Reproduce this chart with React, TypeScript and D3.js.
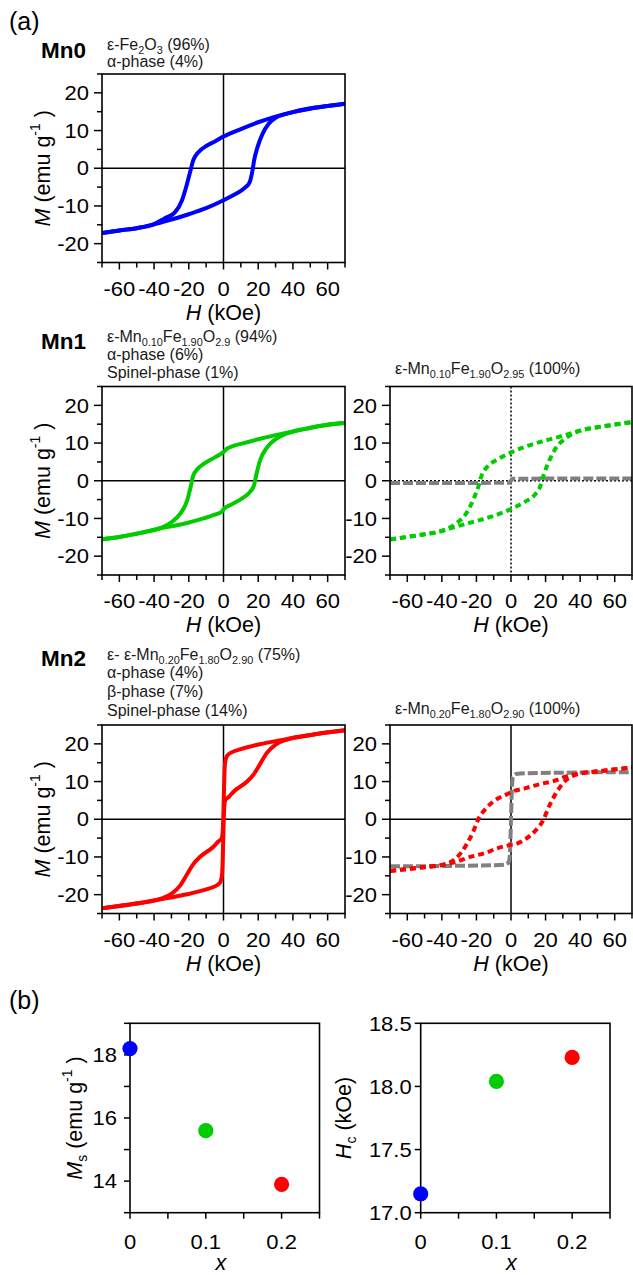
import React from "react";
import * as d3 from "d3";

const FONT = "'Liberation Sans', Arial, Helvetica, sans-serif";

// ---- axis ticks (hysteresis panels) ----
const H_MAJOR = [-60, -40, -20, 0, 20, 40, 60];
const H_MINOR = [-70, -50, -30, -10, 10, 30, 50, 70];
const M_MAJOR = [-20, -10, 0, 10, 20];
const M_MINOR = [-25, -15, -5, 5, 15, 25];

// ---- Mn0 (blue, measured) ----
const mn0UpperH = [-70, -60, -50, -40, -34, -28, -24, -21, -19, -17.5, -16, -13, -10, -5, 0, 10, 20, 30, 40, 50, 60, 70];
const mn0UpperM = [-17.2, -16.5, -15.9, -14.8, -13.3, -11.7, -8.6, -4.1, -0.6, 2.0, 3.4, 4.9, 5.9, 7.1, 8.4, 10.4, 12.2, 13.7, 14.9, 15.8, 16.5, 17.1];
const mn0LowerH = [-70, -60, -50, -40, -30, -20, -10, 0, 5, 10, 13, 15, 16.7, 17.6, 19.6, 22.5, 26, 30, 35, 40, 50, 60, 70];
const mn0LowerM = [-17.2, -16.5, -15.9, -14.9, -13.6, -12.2, -10.6, -8.5, -7.3, -6.0, -4.9, -3.8, -0.6, 2.0, 5.6, 9.1, 11.8, 13.4, 14.3, 14.9, 15.9, 16.5, 17.1];

// ---- Mn1 measured (green solid) ----
const mn1UpperH = [-70, -60, -50, -40, -35, -30, -25, -21, -19, -17.5, -15, -11, -5, 0, 2, 5, 10, 20, 30, 40, 50, 60, 70];
const mn1UpperM = [-15.5, -14.9, -14.0, -13.0, -12.3, -11.0, -8.8, -5.3, -1.8, 1.3, 3.1, 4.6, 6.2, 7.6, 8.5, 9.1, 9.8, 11.0, 12.1, 13.1, 14.1, 14.8, 15.3];
const mn1LowerH = [-70, -60, -50, -40, -35, -29, -21, -13, -5, -1, 0, 5, 11, 15, 17.5, 19, 21, 25, 30, 35, 40, 50, 60, 70];
const mn1LowerM = [-15.5, -14.9, -14.1, -13.1, -12.5, -12.0, -11.2, -10.2, -9.0, -8.2, -7.6, -6.2, -4.6, -3.1, -1.3, 1.8, 5.3, 8.8, 11.0, 12.3, 13.0, 14.0, 14.9, 15.3];

// ---- Mn1 simulated (green dashed + gray spinel) ----
const mn1SimUpperH = [-70, -60, -50, -40, -32, -26, -22, -19, -17, -14, -8, 0, 8, 17, 25, 32, 40, 50, 60, 70];
const mn1SimUpperM = [-15.5, -14.9, -14.2, -13.3, -11.4, -8.7, -5.2, -1.7, 1.4, 3.6, 5.6, 7.5, 9.0, 10.3, 11.3, 12.2, 13.3, 14.2, 14.9, 15.6];
const mn1SimLowerH = [-70, -60, -50, -40, -32, -25, -17, -8, 0, 8, 14, 17, 19, 22, 26, 32, 40, 50, 60, 70];
const mn1SimLowerM = [-15.6, -14.9, -14.2, -13.3, -12.2, -11.3, -10.3, -9.0, -7.5, -5.6, -3.6, -1.4, 1.7, 5.2, 8.7, 11.4, 13.3, 14.2, 14.9, 15.5];
const mn1GrayH = [-70, -30, -1, 0, 1, 30, 70];
const mn1GrayM = [-0.6, -0.6, -0.5, 0, 0.5, 0.6, 0.6];

// ---- Mn2 measured (red solid) ----
const mn2UpperH = [-70, -52, -37, -30, -25, -21, -17.4, -13.6, -5.8, -3, -1, -0.3, 0.3, 0.8, 2, 5, 10, 21, 37, 52, 70];
const mn2UpperM = [-23.6, -22.5, -21.2, -19.8, -17.6, -14.6, -11.9, -10.0, -7.3, -5.9, -5.0, -2, 8, 14.5, 16.8, 17.8, 18.6, 19.9, 21.3, 22.5, 23.6];
const mn2LowerH = [-70, -52, -37, -21, -10, -5, -2, -0.8, -0.3, 0.3, 1, 3, 5.8, 13.6, 17.4, 21, 25, 30, 37, 52, 70];
const mn2LowerM = [-23.6, -22.5, -21.3, -19.9, -18.6, -17.8, -16.8, -14.5, -8, 2, 5.0, 5.9, 7.3, 10.0, 11.9, 14.6, 17.6, 19.8, 21.2, 22.5, 23.6];

// ---- Mn2 simulated (red dashed + gray spinel) ----
const mn2SimUpperH = [-70, -52, -39, -31.4, -25.6, -21.7, -18.9, -14, -8.3, -2.5, 0, 8, 16.7, 25, 31, 39, 52, 70];
const mn2SimUpperM = [-13.7, -12.8, -12.0, -10.2, -6.6, -3.1, 0, 3.1, 5.3, 6.6, 7.2, 8.2, 9.3, 10.2, 11.2, 12.1, 12.8, 13.7];
const mn2SimLowerH = [-70, -52, -39, -31, -25, -14, -8, 0, 2.5, 8.3, 14, 18.9, 21.7, 25.6, 31.4, 39, 52, 70];
const mn2SimLowerM = [-13.7, -12.8, -12.1, -11.2, -10.2, -8.8, -7.7, -6.8, -6.6, -5.3, -3.1, 0, 3.1, 6.6, 10.2, 12.0, 12.8, 13.7];
const mn2GrayH = [-70, -40, -10, -3, -1.2, -0.5, 0, 0.5, 1.2, 3, 10, 40, 70];
const mn2GrayM = [-12.5, -12.4, -12.2, -12.0, -11.2, -8, 0, 8, 11.2, 12.0, 12.2, 12.4, 12.5];

// ---- panel (b) ----
const X_COMP = [0, 0.1, 0.2];
const MS_VALUES = [18.2, 15.6, 13.9];
const HC_VALUES = [17.15, 18.04, 18.23];
const X_B_MAJOR = [0, 0.1, 0.2];
const X_B_MINOR = [0.05, 0.15, 0.25];
const MS_MAJOR = [14, 16, 18];
const MS_MINOR = [13, 15, 17, 19];
const HC_MAJOR = [17.0, 17.5, 18.0, 18.5];

const BLUE = "#0000ff";
const GREEN = "#00cc00";
const RED = "#ff0000";
const GRAY = "#808080";
const COMP_COLORS = [BLUE, GREEN, RED];

const TICK_FS = 20;
const TICK_SX = 1.1;
const TITLE_FS = 21.5;
const SUB_FS = 16;

type Curve = { H: number[]; M: number[]; color: string; dash?: string };

function TickText({ x, y, anchor, children, dy }: { x: number; y: number; anchor: string; children: React.ReactNode; dy?: string }) {
  return (
    <text transform={`translate(${x},${y}) scale(${TICK_SX},1)`} dy={dy} textAnchor={anchor} fontSize={TICK_FS}>
      {children}
    </text>
  );
}

function HystPanel({ id, left, top, width, height, curves, dottedZero, yTitle }: {
  id: string; left: number; top: number; width: number; height: number;
  curves: Curve[]; dottedZero?: boolean; yTitle?: boolean;
}) {
  const x = d3.scaleLinear().domain([-70, 70]).range([left, left + width]);
  const y = d3.scaleLinear().domain([-25, 25]).range([top + height, top]);
  const line = d3.line<[number, number]>().x(d => x(d[0])).y(d => y(d[1])).curve(d3.curveMonotoneX);
  const bottom = top + height;
  const zeroDash = dottedZero ? "2 2" : undefined;
  return (
    <g>
      <defs>
        <clipPath id={id}>
          <rect x={left} y={top - 3} width={width} height={height + 6} />
        </clipPath>
      </defs>
      <line x1={x(0)} x2={x(0)} y1={top} y2={bottom} stroke="#000" strokeWidth={1.5} strokeDasharray={zeroDash} />
      <line x1={left} x2={left + width} y1={y(0)} y2={y(0)} stroke="#000" strokeWidth={1.5} strokeDasharray={zeroDash} />
      <g clipPath={`url(#${id})`}>
        {curves.map((c, i) => (
          <path key={i} d={line(d3.zip(c.H, c.M) as [number, number][]) || ""} fill="none" stroke={c.color}
            strokeWidth={4} strokeDasharray={c.dash} strokeLinejoin="round" />
        ))}
      </g>
      <rect x={left} y={top} width={width} height={height} fill="none" stroke="#000" strokeWidth={1.6} />
      {H_MAJOR.map(v => (
        <g key={"hx" + v}>
          <line x1={x(v)} x2={x(v)} y1={bottom} y2={bottom + 7} stroke="#000" strokeWidth={1.5} />
          <TickText x={x(v)} y={bottom + 33} anchor="middle">{v}</TickText>
        </g>
      ))}
      {H_MINOR.map(v => (
        <line key={"hm" + v} x1={x(v)} x2={x(v)} y1={bottom} y2={bottom + 5} stroke="#000" strokeWidth={1.5} />
      ))}
      {M_MAJOR.map(v => (
        <g key={"my" + v}>
          <line x1={left - 8} x2={left} y1={y(v)} y2={y(v)} stroke="#000" strokeWidth={1.5} />
          <TickText x={left - 13} y={y(v)} dy="0.36em" anchor="end">{v}</TickText>
        </g>
      ))}
      {M_MINOR.map(v => (
        <line key={"mm" + v} x1={left - 5} x2={left} y1={y(v)} y2={y(v)} stroke="#000" strokeWidth={1.5} />
      ))}
      <text x={left + width / 2} y={bottom + 57} textAnchor="middle" fontSize={TITLE_FS}>
        <tspan fontStyle="italic">H</tspan> (kOe)
      </text>
      {yTitle && (
        <text transform={`translate(${left - 52},${top + height / 2}) rotate(-90)`} textAnchor="middle" fontSize={TITLE_FS}>
          <tspan fontStyle="italic">M</tspan> (emu g<tspan fontSize={14} dy={-10}>-1</tspan><tspan dy={10}> )</tspan>
        </text>
      )}
    </g>
  );
}

function Chem({ x, y, parts, size }: { x: number; y: number; parts: [string, boolean][]; size: number }) {
  let prevSub = false;
  return (
    <text x={x} y={y} fontSize={size} fill="#1a1a1a">
      {parts.map(([t, sub], i) => {
        const dy = sub && !prevSub ? 3.5 : !sub && prevSub ? -3.5 : 0;
        prevSub = sub;
        return <tspan key={i} dy={dy} fontSize={sub ? size * 0.68 : size}>{t}</tspan>;
      })}
    </text>
  );
}

function ScatterPanel({ left, top, width, height, yDomain, values, yMajor, yMinor, fmt, yLabel, labelOffset, tickGap }: {
  left: number; top: number; width: number; height: number; yDomain: [number, number]; values: number[];
  yMajor: number[]; yMinor: number[]; fmt: (v: number) => string; yLabel: React.ReactNode; labelOffset: number; tickGap: number;
}) {
  const x = d3.scaleLinear().domain([0, 0.25]).range([left, left + width]);
  const y = d3.scaleLinear().domain(yDomain).range([top + height, top]);
  const bottom = top + height;
  return (
    <g>
      <rect x={left} y={top} width={width} height={height} fill="none" stroke="#000" strokeWidth={1.6} />
      {X_B_MAJOR.map(v => (
        <g key={"bx" + v}>
          <line x1={x(v)} x2={x(v)} y1={bottom} y2={bottom + 6} stroke="#000" strokeWidth={1.5} />
          <TickText x={x(v)} y={bottom + 36.5} anchor="middle">{v === 0 ? "0" : v.toFixed(1)}</TickText>
        </g>
      ))}
      {X_B_MINOR.map(v => (
        <line key={"bxm" + v} x1={x(v)} x2={x(v)} y1={bottom} y2={bottom + 6} stroke="#000" strokeWidth={1.5} />
      ))}
      {yMajor.map(v => (
        <g key={"by" + v}>
          <line x1={left - 6} x2={left} y1={y(v)} y2={y(v)} stroke="#000" strokeWidth={1.5} />
          <TickText x={left - tickGap} y={y(v)} dy="0.36em" anchor="end">{fmt(v)}</TickText>
        </g>
      ))}
      {yMinor.map(v => (
        <line key={"bym" + v} x1={left - 6} x2={left} y1={y(v)} y2={y(v)} stroke="#000" strokeWidth={1.5} />
      ))}
      {X_COMP.map((xc, i) => (
        <circle key={"pt" + i} cx={x(xc)} cy={y(values[i])} r={7.6} fill={COMP_COLORS[i]} />
      ))}
      <text x={left + width / 2 - 4} y={bottom + 57} textAnchor="middle" fontSize={TITLE_FS} fontStyle="italic">x</text>
      <text transform={`translate(${left - labelOffset},${top + height / 2}) rotate(-90)`} textAnchor="middle" fontSize={TITLE_FS}>
        {yLabel}
      </text>
    </g>
  );
}

export default function App() {
  const L = 102, R = 390, PW = 243, PWR = 242, PH = 188.5;
  return (
    <svg width={633} height={1275} style={{ position: "absolute", left: 0, top: 0, background: "#fff" }}
      fontFamily={FONT}>
      <rect x={0} y={0} width={633} height={1275} fill="#fff" />
      <text x={9} y={30} fontSize={25}>(a)</text>

      {/* Mn0 */}
      <text x={41} y={58} fontSize={22.5} fontWeight="bold">Mn0</text>
      <Chem x={107} y={50} size={SUB_FS} parts={[["ε-Fe", false], ["2", true], ["O", false], ["3", true], [" (96%)", false]]} />
      <text x={107} y={67} fontSize={SUB_FS} fill="#1a1a1a">α-phase (4%)</text>
      <HystPanel id="c0" left={L} top={74} width={PW} height={PH} yTitle
        curves={[
          { H: mn0UpperH, M: mn0UpperM, color: BLUE },
          { H: mn0LowerH, M: mn0LowerM, color: BLUE },
        ]} />

      {/* Mn1 */}
      <text x={41} y={349} fontSize={22.5} fontWeight="bold">Mn1</text>
      <Chem x={107} y={342} size={SUB_FS} parts={[["ε-Mn", false], ["0.10", true], ["Fe", false], ["1.90", true], ["O", false], ["2.9", true], [" (94%)", false]]} />
      <text x={107} y={360} fontSize={SUB_FS} fill="#1a1a1a">α-phase (6%)</text>
      <text x={107} y={378} fontSize={SUB_FS} fill="#1a1a1a">Spinel-phase (1%)</text>
      <Chem x={395} y={374} size={SUB_FS} parts={[["ε-Mn", false], ["0.10", true], ["Fe", false], ["1.90", true], ["O", false], ["2.95", true], [" (100%)", false]]} />
      <HystPanel id="c1" left={L} top={386.5} width={PW} height={PH} yTitle
        curves={[
          { H: mn1UpperH, M: mn1UpperM, color: GREEN },
          { H: mn1LowerH, M: mn1LowerM, color: GREEN },
        ]} />
      <HystPanel id="c2" left={R} top={386.5} width={PWR} height={PH} dottedZero
        curves={[
          { H: mn1GrayH, M: mn1GrayM, color: GRAY, dash: "10 3" },
          { H: mn1SimUpperH, M: mn1SimUpperM, color: GREEN, dash: "6 4" },
          { H: mn1SimLowerH, M: mn1SimLowerM, color: GREEN, dash: "6 4" },
        ]} />

      {/* Mn2 */}
      <text x={41} y={666} fontSize={22.5} fontWeight="bold">Mn2</text>
      <Chem x={107} y={660} size={SUB_FS} parts={[["ε- ε-Mn", false], ["0.20", true], ["Fe", false], ["1.80", true], ["O", false], ["2.90", true], [" (75%)", false]]} />
      <text x={107} y={678} fontSize={SUB_FS} fill="#1a1a1a">α-phase (4%)</text>
      <text x={107} y={697} fontSize={SUB_FS} fill="#1a1a1a">β-phase (7%)</text>
      <text x={107} y={716} fontSize={SUB_FS} fill="#1a1a1a">Spinel-phase (14%)</text>
      <Chem x={395} y={714} size={SUB_FS} parts={[["ε-Mn", false], ["0.20", true], ["Fe", false], ["1.80", true], ["O", false], ["2.90", true], [" (100%)", false]]} />
      <HystPanel id="c3" left={L} top={725} width={PW} height={PH} yTitle
        curves={[
          { H: mn2UpperH, M: mn2UpperM, color: RED },
          { H: mn2LowerH, M: mn2LowerM, color: RED },
        ]} />
      <HystPanel id="c4" left={R} top={725} width={PWR} height={PH}
        curves={[
          { H: mn2GrayH, M: mn2GrayM, color: GRAY, dash: "10 3" },
          { H: mn2SimUpperH, M: mn2SimUpperM, color: RED, dash: "6 4" },
          { H: mn2SimLowerH, M: mn2SimLowerM, color: RED, dash: "6 4" },
        ]} />

      {/* (b) */}
      <text x={9} y={1009} fontSize={25}>(b)</text>
      <ScatterPanel left={130} top={1023.3} width={189.5} height={189.4} yDomain={[13, 19]} values={MS_VALUES}
        yMajor={MS_MAJOR} yMinor={MS_MINOR} fmt={v => String(v)} labelOffset={48} tickGap={13}
        yLabel={<><tspan fontStyle="italic">M</tspan><tspan fontSize={14} dy={5}>s</tspan><tspan dy={-5}> (emu g</tspan><tspan fontSize={14} dy={-10}>-1</tspan><tspan dy={10}> )</tspan></>} />
      <ScatterPanel left={420.7} top={1023.3} width={189.3} height={189.4} yDomain={[17, 18.5]} values={HC_VALUES}
        yMajor={HC_MAJOR} yMinor={[]} fmt={v => v.toFixed(1)} labelOffset={70} tickGap={9}
        yLabel={<><tspan fontStyle="italic">H</tspan><tspan fontSize={14} dy={5}>c</tspan><tspan dy={-5}> (kOe)</tspan></>} />
    </svg>
  );
}
